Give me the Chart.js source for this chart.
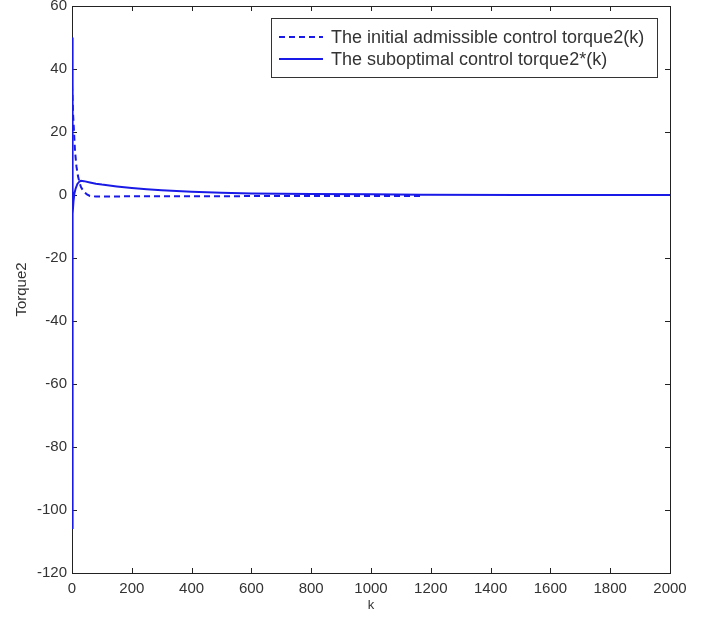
<!DOCTYPE html>
<html>
<head>
<meta charset="utf-8">
<script src="https://cdn.jsdelivr.net/npm/chart.js@4"></script>
<style>
  html, body { margin: 0; padding: 0; background: #fff; }
  #wrap { width: 709px; height: 617px; }
</style>
</head>
<body>
<div id="wrap"><canvas id="myChart" width="709" height="617"></canvas></div>
<script>
// values
const initialK = [0, 2, 4, 7, 10, 15, 20, 25, 30, 40, 50, 60, 80, 100, 200, 400, 600, 800, 1000, 1170];
const initialTorque = [35, 30, 25, 19.6, 14, 9, 6, 4, 2.5, 1, 0.2, -0.3, -0.5, -0.5, -0.4, -0.4, -0.35, -0.3, -0.3, -0.3];

const subK = [0, 1, 2, 3, 5, 8, 12, 18, 25, 30, 40, 60, 80, 100, 150, 200, 250, 300, 400, 500, 600, 700, 800, 1000, 1170, 1500, 2000];
const subTorque = [50, -106, -15, -6, -2, 0.5, 2, 3.5, 4.3, 4.5, 4.4, 4.0, 3.6, 3.3, 2.7, 2.2, 1.8, 1.5, 1.0, 0.7, 0.5, 0.4, 0.3, 0.2, 0.1, 0, 0];

const xTicks = [0, 200, 400, 600, 800, 1000, 1200, 1400, 1600, 1800, 2000];
const yTicks = [-120, -100, -80, -60, -40, -20, 0, 20, 40, 60];

const legendLabels = ['The initial admissible control torque2(k)', 'The suboptimal control torque2*(k)'];

const toPoints = (ks, vs) => ks.map((k, i) => ({ x: k, y: vs[i] }));
const BLUE = '#1a1ae6';
const FONT = 'Liberation Sans, Arial, sans-serif';

// matlab style frame: box and inward ticks on all four sides, under the lines
const matlabFrame = {
  id: 'matlabFrame',
  beforeDatasetsDraw(chart) {
    const { ctx, chartArea: a, scales } = chart;
    ctx.save();
    ctx.strokeStyle = '#222';
    ctx.lineWidth = 1;
    ctx.strokeRect(a.left + 0.5, a.top + 0.5, a.right - a.left, a.bottom - a.top);
    const len = 5;
    ctx.beginPath();
    xTicks.forEach(v => {
      const px = Math.round(scales.x.getPixelForValue(v)) + 0.5;
      ctx.moveTo(px, a.bottom); ctx.lineTo(px, a.bottom - len);
      ctx.moveTo(px, a.top); ctx.lineTo(px, a.top + len);
    });
    yTicks.forEach(v => {
      const py = Math.round(scales.y.getPixelForValue(v)) + 0.5;
      ctx.moveTo(a.left, py); ctx.lineTo(a.left + len, py);
      ctx.moveTo(a.right, py); ctx.lineTo(a.right - len, py);
    });
    ctx.stroke();
    ctx.restore();
  },
  afterDraw(chart) {
    // legend box, top right
    const { ctx } = chart;
    ctx.save();
    const bx = 271, by = 18, bw = 386, bh = 59;
    ctx.fillStyle = '#fff';
    ctx.fillRect(bx, by, bw, bh);
    ctx.strokeStyle = '#333';
    ctx.lineWidth = 1;
    ctx.strokeRect(bx + 0.5, by + 0.5, bw, bh);
    chart.data.datasets.forEach((ds, i) => {
      const yy = by + 19 + i * 22;
      ctx.strokeStyle = ds.borderColor;
      ctx.lineWidth = 2;
      ctx.setLineDash(ds.borderDash || []);
      ctx.beginPath();
      ctx.moveTo(bx + 8, yy); ctx.lineTo(bx + 52, yy);
      ctx.stroke();
      ctx.setLineDash([]);
      ctx.fillStyle = '#333';
      ctx.font = '18px ' + FONT;
      ctx.textBaseline = 'middle';
      ctx.fillText(ds.label, bx + 60, yy + 1);
    });
    ctx.restore();
  }
};

const chartConfig = {
  type: 'line',
  data: {
    datasets: [{
      label: legendLabels[0],
      data: toPoints(initialK, initialTorque),
      borderColor: BLUE,
      borderWidth: 2,
      borderDash: [6, 4],
      pointRadius: 0,
      tension: 0
    }, {
      label: legendLabels[1],
      data: toPoints(subK, subTorque),
      borderColor: BLUE,
      borderWidth: 2,
      pointRadius: 0,
      tension: 0
    }]
  },
  plugins: [matlabFrame],
  options: {
    responsive: false,
    animation: false,
    layout: { padding: { top: 6, right: 39, left: 9, bottom: 0 } },
    plugins: {
      legend: { display: false },
      tooltip: { enabled: false }
    },
    scales: {
      x: {
        type: 'linear',
        min: 0,
        max: 2000,
        afterBuildTicks: s => { s.ticks = xTicks.map(v => ({ value: v })); },
        afterFit: s => { s.height = 44; },
        grid: { display: false, drawTicks: false },
        border: { display: false },
        ticks: { color: '#333', font: { family: FONT, size: 15 }, padding: 7, maxRotation: 0, callback: v => String(v) },
        title: { display: true, text: 'k', color: '#333', font: { family: FONT, size: 13 }, padding: { top: 0 } }
      },
      y: {
        type: 'linear',
        min: -120,
        max: 60,
        afterBuildTicks: s => { s.ticks = yTicks.map(v => ({ value: v })); },
        afterFit: s => { s.width = 63; s.paddingTop = 0; s.paddingBottom = 0; },
        grid: { display: false, drawTicks: false },
        border: { display: false },
        ticks: { color: '#333', font: { family: FONT, size: 15 }, padding: 5, callback: v => String(v) },
        title: { display: true, text: 'Torque2', color: '#333', font: { family: FONT, size: 15 }, padding: { bottom: 0 } }
      }
    }
  }
};

new Chart(document.getElementById('myChart').getContext('2d'), chartConfig);
</script>
</body>
</html>
